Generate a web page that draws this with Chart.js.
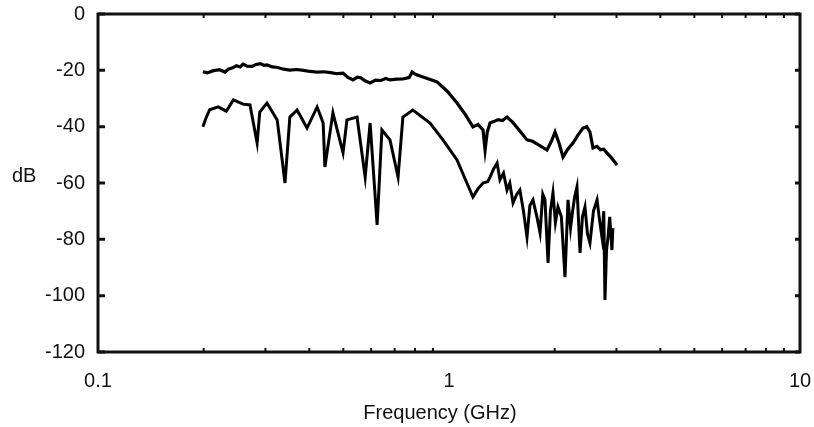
<!DOCTYPE html>
<html>
<head>
<meta charset="utf-8">
<title>Frequency response</title>
<script src="https://cdn.jsdelivr.net/npm/chart.js@4.4.1/dist/chart.umd.min.js"></script>
<style>
  html, body { margin: 0; padding: 0; background: #fff; }
  #wrap { width: 814px; height: 427px; }
</style>
</head>
<body>
<div id="wrap"><canvas id="chart" width="814" height="427"></canvas></div>
<script>
// upper trace (GHz, dB)
var upperFreq = [0.199, 0.205, 0.212, 0.222, 0.230, 0.235, 0.242, 0.248, 0.254, 0.259, 0.266, 0.275, 0.282, 0.290,
                 0.297, 0.303, 0.314, 0.325, 0.338, 0.352, 0.368, 0.385, 0.402, 0.421, 0.440, 0.460, 0.480,
                 0.499, 0.515, 0.533, 0.548, 0.560, 0.578, 0.596, 0.618, 0.640, 0.660, 0.679, 0.710, 0.740,
                 0.770, 0.785, 0.805, 0.843, 0.880, 0.924, 0.990, 1.054, 1.110, 1.170, 1.210, 1.250,
                 1.267, 1.285, 1.309, 1.340, 1.380, 1.420, 1.463, 1.520, 1.592, 1.668, 1.730, 1.800, 1.902,
                 1.960, 2.005, 2.060, 2.113, 2.180, 2.255, 2.330, 2.408, 2.470, 2.521, 2.572, 2.640, 2.700,
                 2.760, 2.818, 2.900, 3.010];
var upperDb   = [-20.5, -20.9, -20.2, -19.8, -20.6, -19.6, -19.1, -18.4, -18.8, -17.8, -18.5, -18.6, -17.9, -17.6,
                 -18.2, -18.1, -18.8, -19.0, -19.6, -19.9, -19.7, -20.0, -20.4, -20.6, -20.5, -20.8, -21.2,
                 -21.0, -22.5, -23.4, -22.4, -22.6, -23.8, -24.5, -23.5, -23.6, -22.9, -23.4, -23.1, -23.0,
                 -22.6, -20.6, -21.5, -22.4, -23.2, -24.1, -27.5, -31.6, -35.5, -40.1, -39.2, -41.2,
                 -48.3, -42.0, -38.7, -38.2, -37.5, -37.8, -36.6, -38.5, -41.5, -44.7, -45.2, -46.5, -48.3,
                 -45.0, -41.9, -46.0, -50.8, -48.0, -45.8, -43.0, -40.5, -40.0, -41.9, -47.6, -47.0, -48.2,
                 -48.0, -49.3, -51.0, -53.6];

// lower trace (GHz, dB)
var lowerFreq = [0.199, 0.203, 0.208, 0.220, 0.232, 0.243, 0.259, 0.271, 0.284, 0.289, 0.303, 0.324, 0.341, 0.352,
                 0.369, 0.394, 0.421, 0.438, 0.443, 0.467, 0.499, 0.512, 0.547, 0.577, 0.596, 0.624, 0.644,
                 0.679, 0.716, 0.739, 0.789, 0.883, 0.961, 1.054, 1.170, 1.210, 1.250, 1.290, 1.309, 1.340,
                 1.371, 1.397, 1.430, 1.463, 1.490, 1.522, 1.560, 1.592, 1.630, 1.668, 1.700, 1.735, 1.780,
                 1.817, 1.850, 1.877, 1.915, 1.945, 1.978, 2.010, 2.044, 2.090, 2.140, 2.183, 2.220, 2.250,
                 2.280, 2.315, 2.362, 2.400, 2.440, 2.480, 2.521, 2.580, 2.641, 2.690, 2.728, 2.760, 2.782,
                 2.810, 2.838, 2.870, 2.912, 2.930];
var lowerDb   = [-40.0, -37.0, -34.0, -33.0, -34.5, -30.5, -32.0, -32.3, -45.8, -34.8, -31.6, -37.6, -60.0, -36.6,
                 -34.1, -40.5, -33.0, -38.7, -54.3, -35.1, -49.3, -37.6, -36.6, -57.9, -38.7, -74.9, -41.2,
                 -44.7, -57.9, -36.6, -34.1, -38.7, -44.7, -51.8, -65.0, -62.0, -60.0, -59.5, -57.9, -55.0,
                 -52.9, -58.9, -56.5, -62.5, -60.0, -67.1, -64.0, -62.5, -70.0, -79.2, -68.0, -66.0, -72.0,
                 -77.7, -64.0, -66.0, -88.4, -70.0, -63.5, -74.0, -68.5, -72.0, -93.4, -66.0, -76.0, -70.0,
                 -65.0, -61.4, -84.8, -72.0, -68.5, -78.0, -81.3, -70.0, -66.0, -74.0, -79.2, -70.0, -101.5,
                 -84.0, -79.2, -72.0, -83.8, -76.0];

var yTicks = [0, -20, -40, -60, -80, -100, -120];
var xLabels = [0.1, 1, 10];

var ink = '#111';
var font = { family: 'Liberation Sans, Arial, sans-serif', size: 20 };

function toPoints(fs, vs) {
    var pts = [];
    for (var i = 0; i < fs.length; i++) pts.push({ x: fs[i], y: vs[i] });
    return pts;
}

// frame, inward tick marks and axis titles
var framePlugin = {
    id: 'frame',
    afterDraw: function (chart) {
        var ctx = chart.ctx;
        var a = chart.chartArea;
        var xs = chart.scales.x, ys = chart.scales.y;
        ctx.save();
        ctx.strokeStyle = ink;
        ctx.lineWidth = 3;
        ctx.strokeRect(a.left, a.top, a.right - a.left, a.bottom - a.top);

        ctx.beginPath();
        for (var i = 0; i < yTicks.length; i++) {
            var py = ys.getPixelForValue(yTicks[i]);
            ctx.moveTo(a.left, py); ctx.lineTo(a.left + 7, py);
            ctx.moveTo(a.right, py); ctx.lineTo(a.right - 5, py);
        }
        ctx.stroke();

        ctx.lineWidth = 2;
        ctx.beginPath();
        for (var d = -1; d < 1; d++) {
            for (var m = 2; m <= 9; m++) {
                var px = xs.getPixelForValue(m * Math.pow(10, d));
                ctx.moveTo(px, a.bottom); ctx.lineTo(px, a.bottom - 4);
                ctx.moveTo(px, a.top); ctx.lineTo(px, a.top + 4);
            }
        }
        ctx.stroke();

        ctx.fillStyle = ink;
        ctx.font = font.size + 'px ' + font.family;
        ctx.textBaseline = 'middle';
        ctx.textAlign = 'left';
        ctx.fillText('dB', 12, 176);
        ctx.textAlign = 'center';
        ctx.fillText('Frequency (GHz)', 440, 413);
        ctx.restore();
    }
};

new Chart(document.getElementById('chart').getContext('2d'), {
    type: 'line',
    data: {
        datasets: [{
            label: 'upper',
            data: toPoints(upperFreq, upperDb),
            borderColor: '#000',
            borderWidth: 3.2,
            pointRadius: 0,
            tension: 0
        }, {
            label: 'lower',
            data: toPoints(lowerFreq, lowerDb),
            borderColor: '#000',
            borderWidth: 3,
            pointRadius: 0,
            tension: 0
        }]
    },
    options: {
        responsive: false,
        animation: false,
        layout: { padding: { top: 14, right: 14, left: 0, bottom: 0 } },
        plugins: { legend: { display: false }, tooltip: { enabled: false } },
        scales: {
            x: {
                type: 'logarithmic',
                min: 0.1,
                max: 10,
                grid: { display: false, drawTicks: false },
                border: { display: false },
                afterFit: function (s) {
                    s.height = 75;
                    s.paddingLeft = 0;
                    s.paddingRight = 0;
                },
                ticks: {
                    color: ink,
                    font: font,
                    padding: 17,
                    autoSkip: false,
                    maxRotation: 0,
                    callback: function (v) {
                        for (var i = 0; i < xLabels.length; i++)
                            if (Math.abs(v - xLabels[i]) < 1e-9) return String(xLabels[i]);
                        return '';
                    }
                }
            },
            y: {
                min: -120,
                max: 0,
                grid: { display: false, drawTicks: false },
                border: { display: false },
                afterFit: function (s) {
                    s.width = 98;
                    s.paddingTop = 0;
                    s.paddingBottom = 0;
                },
                ticks: {
                    color: ink,
                    font: font,
                    padding: 13,
                    stepSize: 20
                }
            }
        }
    },
    plugins: [framePlugin]
});
</script>
</body>
</html>
